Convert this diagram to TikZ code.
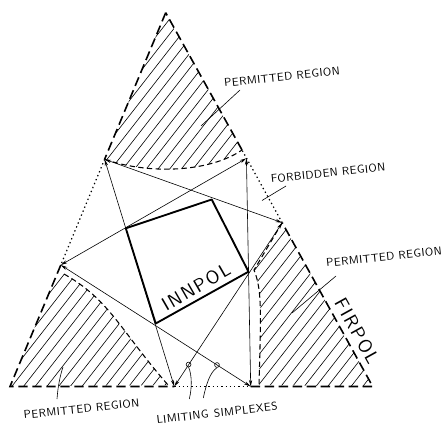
\documentclass[tikz,border=0pt]{standalone}
\usepackage{fontspec}
\newfontfamily\lettering[LetterSpace=4]{lmsans10-regular.otf}
\newfontfamily\bigletter[LetterSpace=9]{lmsans10-regular.otf}
\usetikzlibrary{arrows.meta}

\tikzset{
  permitted/.style={line width=1.2pt, dash pattern=on 7pt off 3.5pt},
  forbidden/.style={line width=0.9pt, dash pattern=on 1pt off 2.2pt},
  bound/.style={line width=0.8pt, dash pattern=on 4pt off 2.5pt},
  simplex/.style={line width=0.45pt, {Stealth[length=5pt,width=2.4pt]}-{Stealth[length=5pt,width=2.4pt]}},
  innpol/.style={line width=1.4pt, line join=round},
  hatch/.style={line width=0.45pt},
  leader/.style={line width=0.45pt},
  lbl/.style={font=\lettering\fontsize{8.5}{9}\selectfont, inner sep=0.75pt, rotate=6},
  biglbl/.style={font=\bigletter\fontsize{14}{14}\selectfont, inner sep=0.75pt},
}
\newcommand\hatchlines{\foreach \x in {-420,-408.3,...,460} {\draw[hatch] (\x,400) -- ++(312,-400);}}

\begin{document}
\begin{tikzpicture}[x=0.75pt,y=0.75pt,yscale=-1,xscale=1]
\useasboundingbox (0,0) rectangle (441,424);

% corners and edge points
\coordinate (T) at (165.7,12.7);
\coordinate (BL) at (10,386.5);
\coordinate (BR) at (372.7,386.5);
\coordinate (A1) at (104.6,159.3);
\coordinate (A2) at (60.8,265);
\coordinate (B1) at (246.4,158.3);
\coordinate (B2) at (282.2,222.7);
\coordinate (C1) at (174.3,386.5);
\coordinate (C2) at (250.7,386.5);
% ends of the region boundaries
\coordinate (E1) at (242,150);
\coordinate (E2) at (64,274);
\coordinate (E3) at (168,385);
\coordinate (E4) at (254,270);
\coordinate (E5) at (259,385);

%Hatching
\begin{scope}
\clip (T) -- (A1) .. controls (150,175) and (210,172) .. (E1) -- cycle;
\hatchlines
\end{scope}
\begin{scope}
\clip (A2) -- (E2) .. controls (110,300) and (120,330) .. (E3) -- (BL) -- cycle;
\hatchlines
\end{scope}
\begin{scope}
\clip (B2) -- (E4) .. controls (262,290) and (261,310) .. (E5) -- (BR) -- cycle;
\hatchlines
\end{scope}

%Region boundaries
\draw[bound] (A1) .. controls (150,175) and (210,172) .. (E1);
\draw[bound] (E2) .. controls (110,300) and (120,330) .. (E3);
\draw[bound] (B2) -- (E4) .. controls (262,290) and (261,310) .. (E5);

%Outer triangle
\draw[permitted] (T) -- (A1);
\draw[forbidden] (A1) -- (A2);
\draw[permitted] (A2) -- (BL) -- (C1);
\draw[forbidden] (C1) -- (C2);
\draw[permitted] (C2) -- (BR) -- (B2);
\draw[forbidden] (B2) -- (E1);
\draw[permitted] (E1) -- (T);

%Straight Lines
\draw[simplex] (A1) -- (B2);
\draw[simplex] (A1) -- (C1);
\draw[simplex] (A2) -- (B1);
\draw[simplex] (A2) -- (C2);
\draw[simplex] (B1) -- (C2);
\draw[simplex] (C1) -- (B2);

%Inner polygon
\coordinate (P1) at (125.8,228.3);
\coordinate (P2) at (211.7,199.5);
\coordinate (P3) at (248.5,271.7);
\coordinate (P4) at (155.7,323.5);
\draw[innpol] (P1) -- (P2) -- (P3) -- (P4) -- cycle;

%Limiting simplexes
\node[circle, draw, line width=0.45pt, inner sep=0pt, minimum size=3.6pt] (s1) at (188.6,364.5) {};
\node[circle, draw, line width=0.45pt, inner sep=0pt, minimum size=3.6pt] (s2) at (217,365) {};

% Text Node
\node[lbl] (prtop) at (282,77) {PERMITTED REGION};
% Text Node
\node[lbl] (forb) at (328,173) {FORBIDDEN REGION};
% Text Node
\node[lbl] (prright) at (384,257) {PERMITTED REGION};
% Text Node
\node[lbl] (prleft) at (81.5,409) {PERMITTED REGION};
% Text Node
\node[lbl, rotate=0.5] (limit) at (217,413) {LIMITING\hspace{0.5em}SIMPLEXES};
% Text Node
\node[biglbl, rotate=30] (inn) at (196,287) {INNPOL};
% Text Node
\node[biglbl, rotate=-61] (fir) at (357,331) {FIRPOL};

%Leaders
\coordinate (L1) at (240,90);
\coordinate (L2) at (201,126);
\coordinate (L3) at (286,186);
\coordinate (L4) at (262,200.5);
\coordinate (L5) at (336,276);
\coordinate (L6) at (292,313);
\coordinate (L7) at (57,399);
\coordinate (L8) at (63,367);
\coordinate (L9) at (189.3,399);
\coordinate (L10) at (203.3,398);
\draw[leader] (L1) -- (L2);
\draw[leader] (L3) -- (L4);
\draw[leader] (L5) -- (L6);
\draw[leader] (L7) .. controls (58,386) and (60,376) .. (L8);
\draw[leader] (L9) .. controls (192,388) and (192,375) .. (s1.south);
\draw[leader] (L10) .. controls (206,385) and (210,372) .. (s2.south);

\end{tikzpicture}
\end{document}
